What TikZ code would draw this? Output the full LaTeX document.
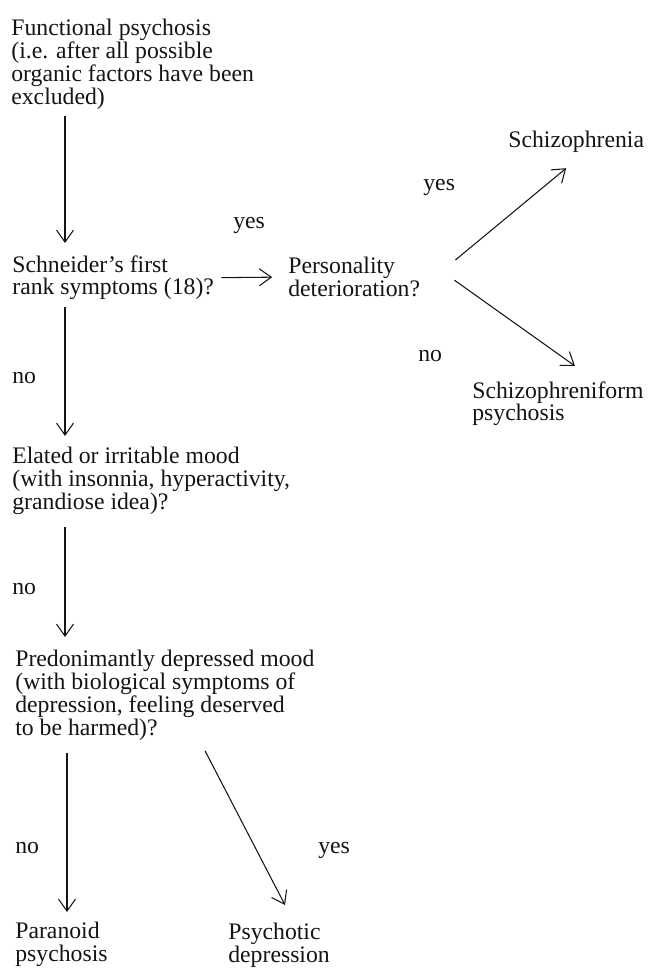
\documentclass[tikz,border=0pt]{standalone}
\usepackage{fontspec}
\setmainfont{Liberation Serif}
\usepackage{tikz}
\usetikzlibrary{arrows.meta,positioning,calc}
\definecolor{inkdark}{RGB}{20,20,20}

\begin{document}
\begin{tikzpicture}[x=0.02cm,y=-0.02cm,
  txt/.style={anchor=north west,inner sep=0pt,align=left,text=inkdark,font=\fontsize{13.5}{13}\selectfont},
  lbl/.style={anchor=base west,inner sep=0pt,text=inkdark,font=\fontsize{13.5}{13}\selectfont},
  arr/.style={-{Straight Barb[length=2.4mm,width=3.4mm]},inkdark,line width=0.6pt}]
\useasboundingbox (0,0) rectangle (648,969);
\node[txt] (fp) at (11,19) {Functional psychosis\\(i.e. after all possible\\organic factors have been\\excluded)};
\node[txt] (sch) at (12,255) {Schneider's first\\rank symptoms (18)?};
\node[txt] (pers) at (288,257) {Personality\\deterioration?};
\node[txt] (schz) at (508,131) {Schizophrenia};
\node[txt] (sfm) at (472,381) {Schizophreniform\\psychosis};
\node[txt] (el) at (12,447) {Elated or irritable mood\\(with insonnia, hyperactivity,\\grandiose idea)?};
\node[txt] (pred) at (15,650) {Predonimantly depressed mood\\(with biological symptoms of\\depression, feeling deserved\\to be harmed)?};
\node[txt] (par) at (15,922) {Paranoid\\psychosis};
\node[txt] (psy) at (228,923) {Psychotic\\depression};
\node[lbl] (yes1) at (233,229) {yes};
\node[lbl] (yes2) at (423,191) {yes};
\node[lbl] (no1) at (418,361) {no};
\node[lbl] (no2) at (12,383) {no};
\node[lbl] (no3) at (12,594) {no};
\node[lbl] (no4) at (15,853) {no};
\node[lbl] (yes3) at (318,853) {yes};
\draw[arr] ([shift={(54,6)}]fp.south west) -- ([shift={(53,-12)}]sch.north west);
\draw[arr] ([xshift=4]sch.east) -- ([xshift=-9]pers.west);
\draw[arr] ([shift={(35,3)}]pers.north east) -- ([shift={(-10,15)}]schz.south);
\draw[arr] ([shift={(34,3)}]pers.east) -- ([shift={(103,-15)}]sfm.north west);
\draw[arr] ([shift={(53,7)}]sch.south west) -- ([shift={(53,-11)}]el.north west);
\draw[arr] ([shift={(53,12)}]el.south west) -- ([shift={(50,-13)}]pred.north west);
\draw[arr] ([shift={(52,12)}]pred.south west) -- ([shift={(52,-10)}]par.north west);
\draw[arr] ([shift={(190,10)}]pred.south west) -- ([shift={(57,-18)}]psy.north west);
\end{tikzpicture}
\end{document}
